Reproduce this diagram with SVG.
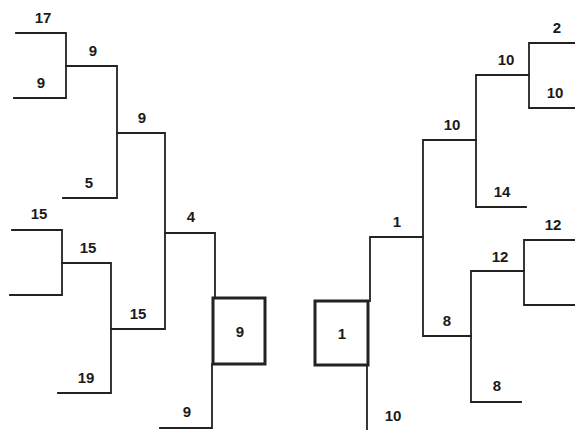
<svg xmlns="http://www.w3.org/2000/svg" width="575" height="430" viewBox="0 0 575 430">
<style>
.c{fill:none;stroke:#222;stroke-width:1.8;stroke-linecap:square}
.b{fill:none;stroke:#222;stroke-width:3}
text{font-family:"Liberation Sans",Arial,sans-serif;font-weight:bold;font-size:15px;fill:#1a1a1a;text-anchor:middle}
</style>
<rect width="575" height="430" fill="#fff"/>
<g id="connectors">
<path class="c" d="M16,33H66V98H14"/>
<path class="c" d="M66,66H117V198H63"/>
<path class="c" d="M117,133H165V329H111"/>
<path class="c" d="M12,230H62V295H10"/>
<path class="c" d="M62,263H111V393H58"/>
<path class="c" d="M165,233H215V298"/>
<path class="c" d="M212,364V428H160"/>
<path class="c" d="M575,43H529V108H575"/>
<path class="c" d="M529,75H476V207H526"/>
<path class="c" d="M476,140H423V336H471"/>
<path class="c" d="M423,237H370V301"/>
<path class="c" d="M367,365V430"/>
<path class="c" d="M575,240H524V305H575"/>
<path class="c" d="M524,271H471V402H521"/>
</g>
<g id="box-left"><rect class="b" x="213" y="298" width="52" height="66"/><text x="240" y="337">9</text></g>
<g id="box-right"><rect class="b" x="315" y="301" width="53" height="64"/><text x="342" y="339">1</text></g>
<g id="labels">
<text x="43" y="23">17</text>
<text x="41" y="88">9</text>
<text x="93" y="56">9</text>
<text x="89" y="188">5</text>
<text x="142" y="123">9</text>
<text x="39" y="219">15</text>
<text x="88" y="253">15</text>
<text x="86" y="383">19</text>
<text x="138" y="319">15</text>
<text x="191" y="222">4</text>
<text x="187" y="417">9</text>
<text x="557" y="33">2</text>
<text x="555" y="98">10</text>
<text x="506" y="65">10</text>
<text x="502" y="197">14</text>
<text x="452" y="130">10</text>
<text x="397" y="227">1</text>
<text x="393" y="421">10</text>
<text x="447" y="326">8</text>
<text x="500" y="262">12</text>
<text x="553" y="230">12</text>
<text x="497" y="391">8</text>
</g>
</svg>
